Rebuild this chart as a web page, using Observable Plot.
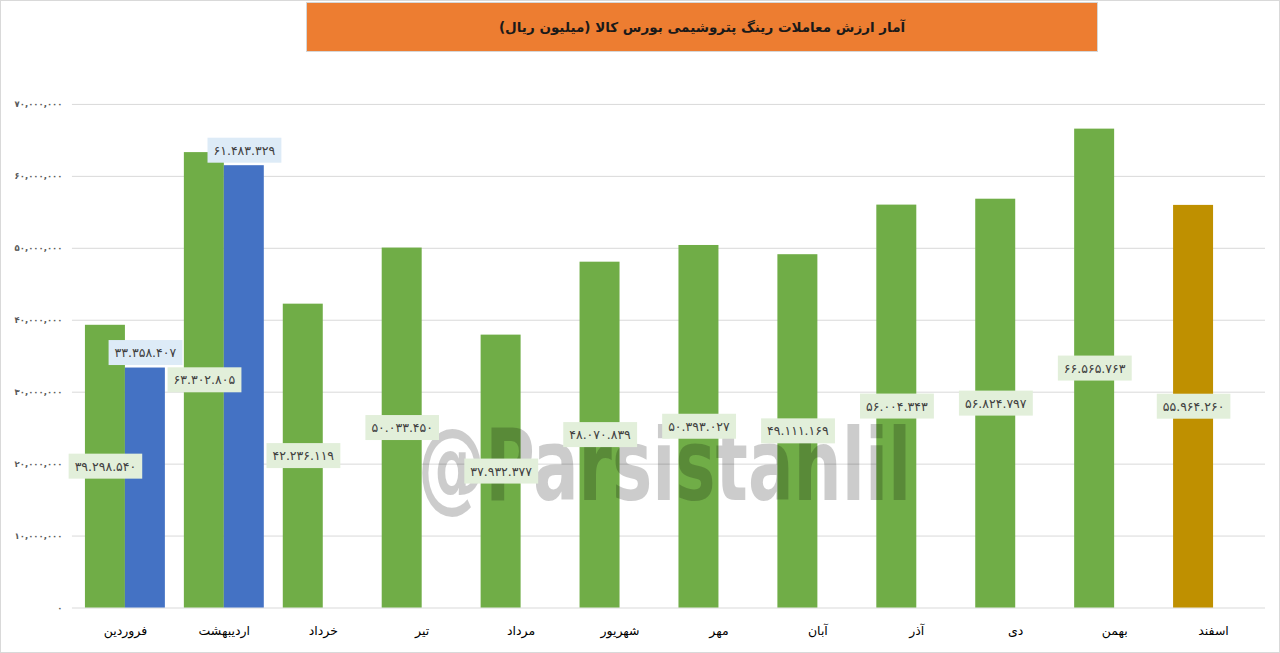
<!DOCTYPE html>
<html>
<head>
<meta charset="utf-8">
<script src="https://cdn.jsdelivr.net/npm/d3@7"></script>
<script src="https://cdn.jsdelivr.net/npm/@observablehq/plot@0.6"></script>
<style>
  html, body { margin: 0; padding: 0; background: #fff; }
  #wrap { position: relative; width: 1278px; height: 651px; border: 1px solid #d9d9d9; overflow: hidden; background: #fff; }
  #title { position: absolute; left: 305px; top: 1px; width: 790px; height: 48px; background: #ED7D31;
           border: 1px solid #d6d6d6; display: flex; align-items: center; justify-content: center;
           font-family: "DejaVu Sans", sans-serif; font-weight: bold; font-size: 13.5px; color: #1a1a1a; direction: rtl; }
  #chart { position: absolute; left: -1px; top: -1px; }
</style>
</head>
<body>
<div id="wrap">
  <div id="chart"></div>
  <div id="title">آمار ارزش معاملات رینگ پتروشیمی بورس کالا (میلیون ریال)</div>
</div>
<script>
// ---- data ----
const months = ["فروردین","اردیبهشت","خرداد","تیر","مرداد","شهریور","مهر","آبان","آذر","دی","بهمن","اسفند"];
const greenValues = [39298540, 63302805, 42236119, 50033450, 37932377, 48070839, 50393027, 49111169, 56004343, 56824797, 66565763, 55964260];
const blueMonths = ["فروردین","اردیبهشت"];
const blueValues = [33358407, 61483329];
const yTicks = [0, 10000000, 20000000, 30000000, 40000000, 50000000, 60000000, 70000000];
const highlightMonth = "اسفند";
const watermarkText = "@Parsistahlil";

const green = months.map((m, i) => ({month: m, value: greenValues[i]}));
const blue = blueMonths.map((m, i) => ({month: m, value: blueValues[i]}));

const faDigits = "۰۱۲۳۴۵۶۷۸۹";
const toFa = s => String(s).replace(/[0-9]/g, d => faDigits[+d]);
const fmtLabel = v => toFa(d3.format(",")(v).replace(/,/g, "."));
const fmtTick = v => toFa(d3.format(",")(v));

const W = 1280, H = 653;
const mL = 72, mR = 14, mT = 104, mB = 45;
const pInner = 0.196, pOuter = 0.1;
const step = (W - mL - mR) / (months.length - pInner + 2 * pOuter);
const half = step * (1 - pInner) / 2;

const cGreen = "#70AD47", cBlue = "#4472C4", cGold = "#BF9000";

const plot = Plot.plot({
  width: W, height: H,
  marginLeft: mL, marginRight: mR, marginTop: mT, marginBottom: mB,
  style: {fontFamily: "DejaVu Sans, sans-serif", background: "transparent"},
  x: {domain: months, paddingInner: pInner, paddingOuter: pOuter, label: null},
  y: {domain: [0, 70000000], label: null},
  marks: [
    Plot.ruleY(yTicks, {stroke: "#d9d9d9", strokeWidth: 1}),
    Plot.barY(green, {x: "month", y: "value", insetRight: half,
      fill: d => d.month === highlightMonth ? cGold : cGreen}),
    Plot.barY(blue, {x: "month", y: "value", insetLeft: half, fill: cBlue}),
    Plot.text(green, {x: "month", y: d => d.value / 2, text: d => fmtLabel(d.value), dx: -half / 2,
      fill: "#404040", fontSize: 12.5}),
    Plot.text(blue, {x: "month", y: "value", text: d => fmtLabel(d.value), dx: half / 2, dy: -15,
      fill: "#404040", fontSize: 12.5}),
    Plot.axisY({ticks: yTicks, tickFormat: fmtTick, tickSize: 0, tickPadding: 10,
      fontSize: 8.5, fontWeight: "bold", fill: "#595959", label: null}),
    Plot.axisX({tickSize: 0, tickPadding: 18, fontSize: 12.5, fill: "#000", label: null})
  ]
});

document.getElementById("chart").appendChild(plot);

// label background boxes
const svgNS = "http://www.w3.org/2000/svg";
const groups = plot.querySelectorAll('g[aria-label="text"]');
const boxColors = ["#E2EFDA", "#DDEBF7"];
groups.forEach((g, gi) => {
  g.querySelectorAll("text").forEach(t => {
    const b = t.getBBox();
    const r = document.createElementNS(svgNS, "rect");
    r.setAttribute("x", b.x - 6);
    r.setAttribute("y", b.y - 5);
    r.setAttribute("width", b.width + 12);
    r.setAttribute("height", b.height + 10);
    r.setAttribute("fill", boxColors[gi] || boxColors[0]);
    if (t.getAttribute("transform")) r.setAttribute("transform", t.getAttribute("transform"));
    t.parentNode.insertBefore(r, t);
  });
});

// watermark
const wm = document.createElementNS(svgNS, "text");
wm.textContent = watermarkText;
wm.setAttribute("x", 418);
wm.setAttribute("y", 500);
wm.setAttribute("text-anchor", "start");
wm.setAttribute("font-size", 100);
wm.setAttribute("font-weight", "bold");
wm.setAttribute("font-family", "Liberation Sans Narrow, DejaVu Sans Condensed, Liberation Sans, sans-serif");
wm.setAttribute("textLength", 494);
wm.setAttribute("lengthAdjust", "spacingAndGlyphs");
wm.setAttribute("fill", "#000");
wm.setAttribute("fill-opacity", 0.2);
if (groups.length) groups[0].parentNode.insertBefore(wm, groups[0]); else plot.appendChild(wm);
</script>
</body>
</html>
